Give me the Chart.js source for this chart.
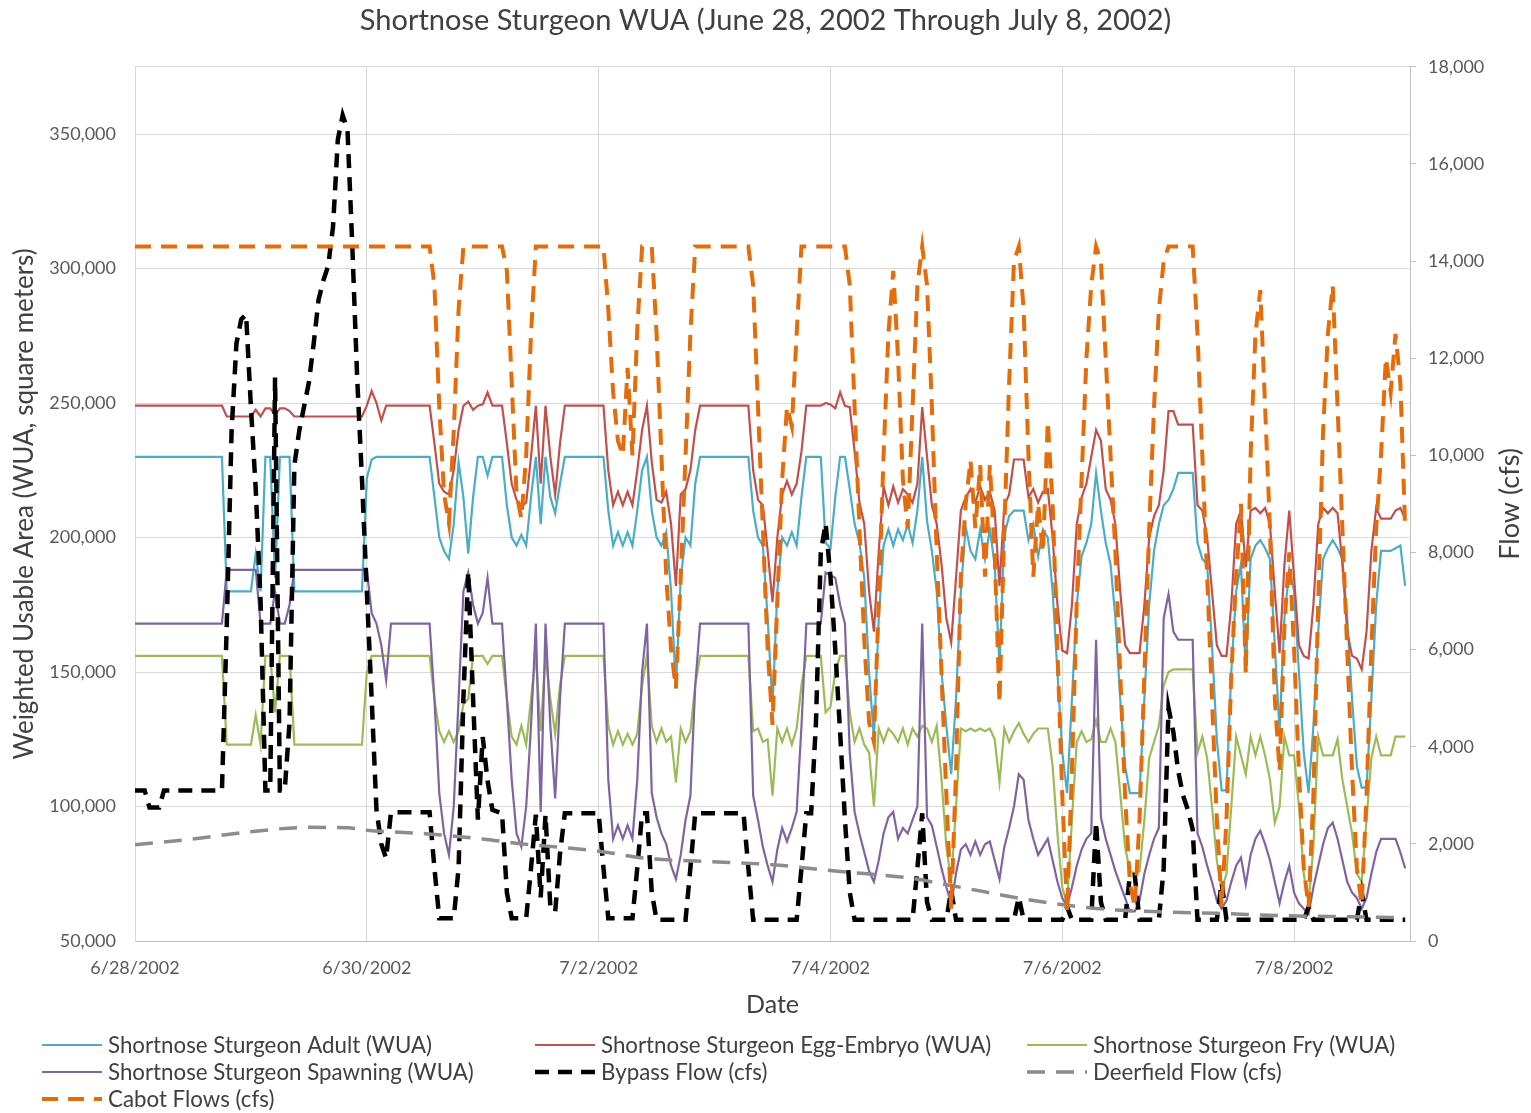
<!DOCTYPE html>
<html>
<head>
<meta charset="utf-8">
<title>Shortnose Sturgeon WUA</title>
<script src="https://cdn.jsdelivr.net/npm/chart.js@4.4.1/dist/chart.umd.min.js"></script>
<style>
  html, body { margin: 0; padding: 0; background: #ffffff; }
  #wrap { width: 1531px; height: 1113px; position: relative; }
</style>
</head>
<body>
<div id="wrap"><canvas id="chart" width="1531" height="1113"></canvas></div>
<script>
// Hours are counted from 6/28/2002 00:00; WUA values are in thousands of square meters, flows in cfs.
const dateTicks = ['6/28/2002', '6/30/2002', '7/2/2002', '7/4/2002', '7/6/2002', '7/8/2002'];
const wuaTicks = [50000, 100000, 150000, 200000, 250000, 300000, 350000];
const flowTicks = [0, 2000, 4000, 6000, 8000, 10000, 12000, 14000, 16000, 18000];

const seriesNames = [
  'Shortnose Sturgeon Adult (WUA)',
  'Shortnose Sturgeon Egg-Embryo (WUA)',
  'Shortnose Sturgeon Fry (WUA)',
  'Shortnose Sturgeon Spawning (WUA)',
  'Bypass Flow (cfs)',
  'Deerfield Flow (cfs)',
  'Cabot Flows (cfs)'
];

const adultWUA = [[0,230],[18,230],[19,180],[24,180],[25,194],[26,180],[27,230],[28,230],[29,185],[30,230],[32,230],[33,180],[47,180],[48,222],[49,229],[50,230],[61,230],[62,215],[63,200],[64,195],[65,192],[66,205],[67,228],[68,215],[69,194],[70,215],[71,230],[72,230],[73,223],[74,230],[76,230],[77,212],[78,200],[79,197],[80,201],[81,197],[82,215],[83,230],[84,205],[85,230],[86,215],[87,209],[88,220],[89,230],[97,230],[98,210],[99,197],[100,202],[101,197],[102,202],[103,197],[104,210],[105,225],[106,230],[107,210],[108,200],[109,197],[110,202],[111,180],[112,144],[113,185],[114,200],[115,197],[116,220],[117,230],[127,230],[128,210],[129,200],[130,197],[131,170],[132,137],[133,180],[134,200],[135,197],[136,202],[137,197],[138,215],[139,230],[142,230],[143,198],[144,196],[145,215],[146,230],[147,230],[148,218],[149,205],[150,198],[151,185],[152,150],[153,125],[154,170],[155,197],[156,203],[157,197],[158,203],[159,199],[160,205],[161,198],[162,210],[163,230],[164,206],[165,195],[166,180],[167,150],[168,130],[169,112],[170,140],[171,180],[172,204],[173,195],[174,192],[175,203],[176,192],[177,203],[178,190],[179,152],[180,201],[181,208],[182,210],[183,210],[184,210],[185,199],[186,205],[187,193],[188,203],[189,200],[190,180],[191,150],[192,120],[193,105],[194,140],[195,175],[196,193],[197,198],[198,205],[199,224],[200,210],[201,198],[202,190],[203,170],[204,140],[205,115],[206,105],[207,105],[208,105],[209,140],[210,175],[211,195],[212,205],[213,212],[214,214],[215,218],[216,224],[219,224],[220,198],[221,192],[222,190],[223,160],[224,125],[225,106],[226,106],[227,150],[228,180],[229,190],[230,150],[231,192],[232,197],[233,199],[234,196],[235,192],[236,160],[237,128],[238,170],[239,188],[240,180],[241,150],[242,120],[243,105],[244,130],[245,165],[246,192],[247,196],[248,199],[249,196],[250,192],[251,170],[252,140],[253,115],[254,107],[255,107],[256,140],[257,175],[258,195],[259,195],[260,195],[261,196],[262,197],[263,182]];

const eggEmbryoWUA = [[0,249],[18,249],[19,245],[24,245],[25,247.5],[26,245],[27,248],[28,248],[29,245.5],[30,248],[31,248],[32,247],[33,245],[47,245],[48,249],[49,254.5],[50,250],[51,243.5],[52,249],[61,249],[62,235],[63,220],[64,217],[65,216],[66,225],[67,240],[68,249],[69,250.5],[70,247.5],[71,249],[72,249.5],[73,254],[74,249],[76,249],[77,235],[78,220],[79,214],[80,211.5],[81,213],[82,230],[83,249],[84,220],[85,249],[86,230],[87,216],[88,235],[89,249],[97,249],[98,225],[99,212],[100,217],[101,212],[102,217],[103,212],[104,225],[105,240],[106,249],[107,228],[108,214],[109,213],[110,217],[111,205],[112,182],[113,216],[114,218],[115,225],[116,240],[117,249],[127,249],[128,225],[129,214],[130,212],[131,195],[132,176],[133,200],[134,216],[135,221],[136,216],[137,220],[138,232],[139,249],[142,249],[143,250],[144,249.5],[145,248],[146,254],[147,249],[148,248.5],[149,232],[150,213],[151,205],[152,180],[153,165],[154,195],[155,219],[156,212],[157,219],[158,213],[159,218],[160,216],[161,213],[162,220],[163,248.5],[164,230],[165,212],[166,205],[167,190],[168,170],[169,161],[170,185],[171,210],[172,215],[173,218],[174,213],[175,219],[176,214],[177,217],[178,210],[179,182],[180,212],[181,216],[182,229],[183,229],[184,229],[185,215],[186,218],[187,213],[188,217],[189,218],[190,200],[191,175],[192,158],[193,157],[194,175],[195,205],[196,215],[197,220],[198,230],[199,240],[200,236],[201,218],[202,214],[203,205],[204,180],[205,160],[206,157],[208,157],[209,175],[210,200],[211,208],[212,212],[213,225],[214,247],[215,247],[216,242],[219,242],[220,212],[221,210],[222,200],[223,180],[224,160],[225,156],[226,156],[227,175],[228,205],[229,210],[230,189],[231,210],[232,211],[233,209],[234,211],[235,205],[236,180],[237,157],[238,190],[239,210],[240,185],[241,160],[242,156],[243,155],[244,175],[245,205],[246,211],[247,209],[248,211],[249,209],[250,190],[251,165],[252,156],[253,155],[254,151],[255,165],[256,195],[257,211],[258,207],[260,207],[261,210],[262,211],[263,207]];

const fryWUA = [[0,156],[18,156],[19,123],[24,123],[25,134],[26,123],[27,156],[28,156],[29,135],[30,156],[32,156],[33,123],[47,123],[48,150],[49,156],[61,156],[62,140],[63,128],[64,124],[65,128],[66,124],[67,128],[68,138],[69,140],[70,156],[72,156],[73,153],[74,156],[76,156],[77,140],[78,126],[79,123],[80,130],[81,123],[82,140],[83,156],[84,128],[85,156],[86,140],[87,127],[88,145],[89,156],[97,156],[98,130],[99,123],[100,128],[101,123],[102,127],[103,123],[104,127],[105,145],[106,156],[107,130],[108,124],[109,129],[110,124],[111,126],[112,109],[113,129],[114,124],[115,128],[116,145],[117,156],[127,156],[128,128],[129,129],[130,124],[131,125],[132,104],[133,129],[134,124],[135,129],[136,123],[137,129],[138,145],[139,156],[142,156],[143,135],[144,137],[145,150],[146,156],[147,156],[148,135],[149,124],[150,129],[151,123],[152,120],[153,100],[154,129],[155,124],[156,129],[157,127],[158,124],[159,129],[160,123],[161,129],[162,126],[163,130],[164,129],[165,124],[166,130],[167,110],[168,85],[169,72],[170,100],[171,129],[172,128],[173,129],[174,128],[175,129],[176,128],[177,129],[178,125],[179,109],[180,129],[181,124],[182,128],[183,131],[184,127],[185,124],[186,127],[187,129],[189,129],[190,115],[191,90],[192,70],[193,64],[194,95],[195,124],[196,128],[197,124],[198,125],[199,132],[200,124],[201,124],[202,129],[203,124],[204,105],[205,85],[206,76],[207,75],[208,76],[209,95],[210,118],[211,124],[212,130],[213,145],[214,150],[215,151],[219,151],[220,120],[221,126],[222,118],[223,100],[224,80],[225,69],[226,75],[227,100],[228,126],[229,119],[230,112],[231,126],[232,119],[233,126],[234,119],[235,110],[236,94],[237,100],[238,126],[239,119],[240,119],[241,100],[242,75],[243,64],[244,85],[245,126],[246,119],[247,119],[248,119],[249,125],[250,110],[251,100],[252,90],[253,75],[254,72],[255,95],[256,118],[257,126],[258,119],[260,119],[261,126],[263,126]];

const spawningWUA = [[0,168],[18,168],[19,188],[25,188],[26,168],[28,168],[29,180],[30,168],[31,168],[32,175],[33,188],[48,188],[49,172],[50,168],[51,160],[52,147],[53,168],[61,168],[62,140],[63,105],[64,90],[65,82],[66,100],[67,140],[68,180],[69,187],[70,175],[71,168],[72,172],[73,185],[74,168],[76,168],[77,140],[78,110],[79,90],[80,85],[81,100],[82,130],[83,168],[84,98],[85,168],[86,130],[87,103],[88,140],[89,168],[97,168],[98,110],[99,88],[100,93],[101,88],[102,93],[103,88],[104,110],[105,150],[106,168],[107,105],[108,96],[109,90],[110,86],[111,78],[112,73],[113,82],[114,95],[115,104],[116,145],[117,168],[127,168],[128,104],[129,95],[130,85],[131,78],[132,72],[133,84],[134,92],[135,87],[136,92],[137,98],[138,130],[139,168],[142,168],[143,187],[144,186],[145,185],[146,175],[147,168],[148,120],[149,98],[150,90],[151,83],[152,76],[153,72],[154,80],[155,90],[156,96],[157,98],[158,88],[159,92],[160,90],[161,95],[162,100],[163,168],[164,96],[165,93],[166,85],[167,77],[168,70],[169,64],[170,75],[171,84],[172,86],[173,82],[174,87],[175,82],[176,86],[177,87],[178,80],[179,73],[180,85],[181,92],[182,100],[183,112],[184,110],[185,95],[186,88],[187,82],[188,85],[189,88],[190,80],[191,72],[192,66],[193,63],[194,70],[195,78],[196,84],[197,88],[198,90],[199,162],[200,96],[201,88],[202,82],[203,76],[204,71],[205,66],[206,61],[207,61],[208,65],[209,75],[210,82],[211,88],[212,92],[213,170],[214,179],[215,165],[216,162],[219,162],[220,90],[221,85],[222,78],[223,72],[224,65],[225,62],[226,65],[227,72],[228,78],[229,81],[230,71],[231,82],[232,88],[233,91],[234,86],[235,80],[236,72],[237,64],[238,72],[239,78],[240,68],[241,64],[242,62],[243,60],[244,70],[245,78],[246,86],[247,92],[248,94],[249,88],[250,80],[251,72],[252,68],[253,66],[254,62],[255,66],[256,75],[257,83],[258,88],[261,88],[262,83],[263,77]];

const bypassFlow = [[0,3100],[2,3100],[3,2750],[5,2750],[6,3100],[18,3100],[19,6500],[20,10500],[21,12300],[22,12800],[23,12900],[24,11000],[25,9300],[26,7000],[27,3100],[28,3100],[29,11600],[30,3100],[31,3100],[32,4500],[33,9800],[34,10500],[35,11000],[36,11500],[37,12300],[38,13200],[39,13600],[40,13900],[41,14700],[42,16500],[43,17000],[44,16700],[45,14300],[46,11600],[47,9500],[48,7200],[49,5000],[50,2700],[51,2000],[52,1700],[53,2650],[61,2650],[62,1500],[63,470],[66,470],[67,1500],[68,5000],[69,7600],[70,5000],[71,2500],[72,4200],[73,3300],[74,2700],[76,2630],[77,1000],[78,470],[81,470],[82,1500],[83,2600],[84,900],[85,2600],[86,700],[87,600],[88,1800],[89,2630],[96,2630],[97,1500],[98,470],[103,470],[104,1500],[105,2630],[106,2630],[107,1000],[108,435],[114,435],[115,1500],[116,2630],[126,2630],[127,1500],[128,435],[137,435],[138,1500],[139,2630],[140,2630],[141,4500],[142,8000],[143,8600],[144,7500],[145,6000],[146,4300],[147,2500],[148,1000],[149,435],[161,435],[162,1500],[163,2630],[164,800],[165,435],[168,435],[169,1050],[170,435],[182,435],[183,900],[184,435],[192,435],[193,700],[194,435],[198,435],[199,2450],[200,800],[201,435],[205,435],[206,1360],[207,1360],[208,435],[212,435],[213,1500],[214,4800],[215,4300],[216,3500],[217,3000],[218,2700],[219,2300],[220,435],[224,435],[225,1200],[226,435],[242,435],[243,700],[244,435],[253,435],[254,1000],[255,435],[263,435]];

const deerfieldFlow = [[0,1980],[12,2100],[24,2250],[36,2340],[44,2330],[48,2280],[60,2210],[72,2100],[80,2000],[88,1930],[96,1850],[106,1700],[119,1635],[132,1570],[146,1430],[160,1300],[172,1085],[185,850],[199,670],[212,600],[224,570],[238,520],[252,500],[263,480]];

const cabotFlow = [[0,14300],[61,14300],[62,13500],[63,11000],[64,9200],[65,8600],[66,10500],[67,13000],[68,14300],[76,14300],[77,13800],[78,11500],[79,9200],[80,8700],[81,10000],[82,12500],[83,14300],[97,14300],[98,13000],[99,11300],[100,10300],[101,10000],[102,11800],[103,10000],[104,12600],[105,14300],[107,14300],[108,12500],[109,10000],[110,7500],[111,6000],[112,5200],[113,7500],[114,10000],[115,12500],[116,14300],[127,14300],[128,13500],[129,11000],[130,8500],[131,6000],[132,4450],[133,7000],[134,9500],[135,11000],[136,10600],[137,12500],[138,14300],[147,14300],[148,13500],[149,11000],[150,8500],[151,6200],[152,4500],[153,4100],[154,7000],[155,10000],[156,12500],[157,13800],[158,12000],[159,9500],[160,8500],[161,11000],[162,13500],[163,14300],[164,13500],[165,11000],[166,8000],[167,5500],[168,3000],[169,650],[170,3500],[171,7500],[172,9000],[173,9900],[174,8500],[175,9800],[176,7500],[177,9800],[178,8000],[179,4900],[180,8500],[181,11500],[182,14000],[183,14300],[184,13000],[185,10000],[186,7500],[187,9000],[188,8000],[189,10700],[190,9000],[191,6000],[192,3000],[193,600],[194,3500],[195,7000],[196,9500],[197,12000],[198,13500],[199,14300],[200,14000],[201,12000],[202,10000],[203,8000],[204,5500],[205,3000],[206,1200],[207,700],[208,2500],[209,5500],[210,8500],[211,11000],[212,13000],[213,14000],[214,14300],[219,14300],[220,12500],[221,10000],[222,7500],[223,5000],[224,2500],[225,700],[226,2500],[227,5500],[228,7500],[229,9000],[230,5500],[231,10000],[232,12500],[233,13400],[234,11000],[235,8500],[236,5000],[237,3500],[238,6500],[239,8000],[240,6000],[241,3500],[242,1500],[243,700],[244,3000],[245,7000],[246,10500],[247,12500],[248,13500],[249,11000],[250,8500],[251,6000],[252,3500],[253,1500],[254,750],[255,3000],[256,6000],[257,8500],[258,10000],[259,12000],[260,11300],[261,12500],[262,11500],[263,8500]];

const FONT = 'Lato, "Open Sans", "Liberation Sans", sans-serif';
const toPoints = (pairs, factor) => pairs.map(([h, v]) => ({ x: h, y: v * factor }));
const fmt = v => Number(v).toLocaleString('en-US');

// Excel-style legend: three columns, filled row by row, in series order
const gridLegend = {
  id: 'gridLegend',
  afterDraw(chart) {
    const ctx = chart.ctx;
    const cols = [42, 535, 1027];
    const rows = [1045, 1072, 1099];
    ctx.save();
    ctx.font = '22.3px ' + FONT;
    ctx.textBaseline = 'middle';
    ctx.textAlign = 'left';
    chart.data.datasets.forEach((ds, i) => {
      const x = cols[i % 3];
      const y = rows[Math.floor(i / 3)];
      ctx.beginPath();
      ctx.setLineDash(ds.borderDash || []);
      ctx.lineWidth = ds.borderWidth;
      ctx.strokeStyle = ds.borderColor;
      ctx.moveTo(x, y);
      ctx.lineTo(x + 60, y);
      ctx.stroke();
      ctx.setLineDash([]);
      ctx.fillStyle = '#404040';
      ctx.fillText(ds.label, x + 66, y + 1);
    });
    ctx.restore();
  }
};

// Secondary axis title, reading bottom to top
const rightAxisTitle = {
  id: 'rightAxisTitle',
  afterDraw(chart) {
    const { ctx, chartArea } = chart;
    ctx.save();
    ctx.translate(1510, (chartArea.top + chartArea.bottom) / 2);
    ctx.rotate(-Math.PI / 2);
    ctx.font = '27px ' + FONT;
    ctx.fillStyle = '#404040';
    ctx.textAlign = 'center';
    ctx.textBaseline = 'middle';
    ctx.fillText('Flow (cfs)', 0, 0);
    ctx.restore();
  }
};

const styles = [
  { color: '#4bacc6', dash: [], width: 2.2, axis: 'y' },
  { color: '#c0504d', dash: [], width: 2.2, axis: 'y' },
  { color: '#9bbb59', dash: [], width: 2.2, axis: 'y' },
  { color: '#8064a2', dash: [], width: 2.2, axis: 'y' },
  { color: '#000000', dash: [14, 9], width: 4.5, axis: 'y1' },
  { color: '#8c8c8c', dash: [18, 11], width: 3.5, axis: 'y1' },
  { color: '#e46c0a', dash: [16, 10], width: 4, axis: 'y1' }
];
const seriesData = [
  toPoints(adultWUA, 1000),
  toPoints(eggEmbryoWUA, 1000),
  toPoints(fryWUA, 1000),
  toPoints(spawningWUA, 1000),
  toPoints(bypassFlow, 1),
  toPoints(deerfieldFlow, 1),
  toPoints(cabotFlow, 1)
];

const datasets = seriesData.map((data, i) => ({
  label: seriesNames[i],
  data,
  yAxisID: styles[i].axis,
  borderColor: styles[i].color,
  backgroundColor: styles[i].color,
  borderWidth: styles[i].width,
  borderDash: styles[i].dash,
  pointRadius: 0,
  tension: 0,
  cubicInterpolationMode: i === 5 ? 'monotone' : 'default',
  fill: false,
  order: seriesData.length - 1 - i
}));

new Chart(document.getElementById('chart'), {
  type: 'line',
  data: { datasets },
  options: {
    responsive: false,
    animation: false,
    devicePixelRatio: 1,
    layout: { padding: { top: 0, left: 0, right: 0, bottom: 87 } },
    plugins: {
      legend: { display: false },
      tooltip: { enabled: false },
      title: {
        display: true,
        text: 'Shortnose Sturgeon WUA (June 28, 2002 Through July 8, 2002)',
        color: '#404040',
        font: { family: FONT, size: 29, weight: 'normal' },
        padding: { top: 3, bottom: 29 }
      }
    },
    scales: {
      x: {
        type: 'linear',
        min: 0,
        max: 264,
        afterFit: s => { s.height = 85; },
        afterBuildTicks: s => { s.ticks = dateTicks.map((_, i) => ({ value: i * 48 })).concat([{ value: 264 }]); },
        grid: { color: '#d9d9d9', lineWidth: 1, drawTicks: false },
        border: { color: '#bfbfbf', width: 1 },
        ticks: {
          padding: 16,
          maxRotation: 0,
          autoSkip: false,
          color: '#595959',
          font: { family: FONT, size: 18 },
          callback: v => dateTicks[v / 48] || ''
        },
        title: {
          display: true,
          text: 'Date',
          color: '#404040',
          font: { family: FONT, size: 25 },
          padding: { top: 0, bottom: 6 }
        }
      },
      y: {
        position: 'left',
        min: 50000,
        max: 375000,
        afterFit: s => { s.width = 135; },
        afterBuildTicks: s => { s.ticks = wuaTicks.map(v => ({ value: v })).concat([{ value: 375000 }]); },
        grid: { color: '#d9d9d9', lineWidth: 1, drawTicks: false },
        border: { color: '#d9d9d9', width: 1 },
        ticks: {
          padding: 19,
          color: '#595959',
          font: { family: FONT, size: 18 },
          callback: v => wuaTicks.includes(v) ? fmt(v) : ''
        },
        title: {
          display: true,
          text: 'Weighted Usable Area (WUA, square meters)',
          color: '#404040',
          font: { family: FONT, size: 26 },
          padding: { top: 9, bottom: 0 }
        }
      },
      y1: {
        position: 'right',
        min: 0,
        max: 18000,
        afterFit: s => { s.width = 121; },
        afterBuildTicks: s => { s.ticks = flowTicks.map(v => ({ value: v })); },
        grid: { drawOnChartArea: false, drawTicks: true, tickLength: 6, color: '#bfbfbf' },
        border: { color: '#bfbfbf', width: 1 },
        ticks: {
          padding: 12,
          color: '#595959',
          font: { family: FONT, size: 18 },
          callback: v => fmt(v)
        }
      }
    }
  },
  plugins: [gridLegend, rightAxisTitle]
});
</script>
</body>
</html>
